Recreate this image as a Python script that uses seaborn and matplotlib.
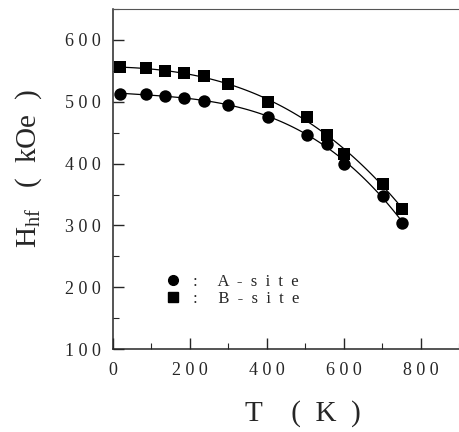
import numpy as np
import pandas as pd
import seaborn as sns
from matplotlib import pyplot as plt
from matplotlib.ticker import MultipleLocator, FuncFormatter
from matplotlib.lines import Line2D

# temperature (K) and hyperfine field (kOe)
temp = [18, 85, 135, 186, 236, 300, 403, 505, 556, 602, 702, 752]
h_a = [513, 512, 510, 506, 502, 495, 475, 446, 431, 400, 348, 304]
h_b = [556, 554, 550, 546, 541, 528, 500, 476, 447, 416, 367, 327]

sns.set_style("ticks")
plt.rcParams['font.family'] = ['Liberation Serif', 'DejaVu Serif']
plt.rcParams['mathtext.fontset'] = 'custom'
plt.rcParams['mathtext.rm'] = 'Liberation Serif'

df = pd.DataFrame({"T": temp, "A": h_a, "B": h_b})

fig = plt.figure(figsize=(4.59, 4.32), dpi=100)
ax = fig.add_axes([0.246, 0.192, 0.754, 0.787])

# fitted curves through each site
for col in ["A", "B"]:
    sns.regplot(ax=ax, data=df, x="T", y=col, order=3, ci=None, scatter=False,
                truncate=True, line_kws=dict(color="black", lw=0.9))

sns.scatterplot(ax=ax, data=df, x="T", y="A", marker="o", s=80, color="black",
                edgecolor="black", linewidth=0, zorder=3)
sns.scatterplot(ax=ax, data=df, x="T", y="B", marker="s", s=80, color="black",
                edgecolor="black", linewidth=0, zorder=3)

ax.set_xlim(0, 900)
ax.set_ylim(100, 650)
ax.xaxis.set_major_locator(MultipleLocator(200))
ax.xaxis.set_minor_locator(MultipleLocator(100))
ax.yaxis.set_major_locator(MultipleLocator(100))
ax.yaxis.set_minor_locator(MultipleLocator(50))
spaced = FuncFormatter(lambda v, p: " ".join(str(int(v))) if v <= 800 else "")
ax.xaxis.set_major_formatter(spaced)
ax.yaxis.set_major_formatter(spaced)
ax.tick_params(which="major", direction="in", length=8, width=1, labelsize=13)
ax.tick_params(which="minor", direction="in", length=4, width=0.8)
ax.tick_params(axis="x", which="major", pad=9)
ax.tick_params(axis="y", which="major", pad=9)
ax.tick_params(axis="x", which="both", top=False)
ax.tick_params(axis="y", which="both", right=False)

ax.spines["right"].set_visible(False)
ax.spines["top"].set_color("#555555")
ax.spines["top"].set_linewidth(0.8)
ax.spines["left"].set_linewidth(1.1)
ax.spines["bottom"].set_linewidth(1.1)

ax.set_xlabel("T    (  K  )", fontsize=21)
ax.xaxis.set_label_coords(0.55, -0.15)
ax.set_ylabel(r"H$_{\rm hf}$   (  kOe  )", fontsize=21)
ax.yaxis.set_label_coords(-0.2, 0.53)

handles = [Line2D([], [], marker="o", ls="", color="black", markersize=7),
           Line2D([], [], marker="s", ls="", color="black", markersize=7)]
ax.legend(handles, [":     A  -  s  i  t  e", ":     B  -  s  i  t  e"],
          loc="upper left", bbox_to_anchor=(0.105, 0.265), frameon=False,
          fontsize=12, handletextpad=0.7, labelspacing=0.05, handlelength=1)

fig.savefig("out.png", dpi=100)
